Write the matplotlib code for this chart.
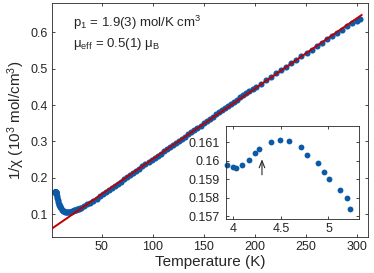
import numpy as np
import matplotlib
matplotlib.use('Agg')
from matplotlib import pyplot as plt

plt.rcParams['font.family'] = ['Liberation Sans', 'DejaVu Sans']
plt.rcParams['mathtext.fontset'] = 'custom'
plt.rcParams['mathtext.rm'] = 'Liberation Sans'
plt.rcParams['mathtext.it'] = 'Liberation Sans:italic'

# measured 1/chi (10^3 mol/cm^3) vs temperature (K)
temp = [3.93, 3.99, 4.03, 4.09, 4.16, 4.23, 4.27, 4.39, 4.49, 4.58, 4.71, 4.77,
        4.89, 4.95, 5.01, 5.12, 5.19, 5.23, 5.5, 6, 6.5, 7, 7.5, 8, 8.5, 9, 9.5,
        10, 11, 12, 13, 14, 15, 16, 17, 18, 19, 20, 21, 22, 23, 24, 25, 26, 27,
        28, 29, 30, 33, 36, 39, 42, 45, 48, 51, 54, 57, 60, 63, 66, 69, 72, 75,
        78, 81, 84, 87, 90, 93, 96, 99, 102, 105, 108, 111, 114, 117, 120, 123,
        126, 129, 132, 135, 138, 141, 144, 147, 150, 153, 156, 159, 162, 165,
        168, 171, 174, 177, 180, 183, 186, 189, 192, 195, 198, 201, 206, 211,
        216, 221, 226, 231, 236, 241, 246, 251, 256, 261, 266, 271, 276, 281,
        286, 291, 296, 300, 303]
inv_chi = [0.15978, 0.15964, 0.15960, 0.15977, 0.16002, 0.16040, 0.16064,
           0.16103, 0.16114, 0.16107, 0.16074, 0.16033, 0.15989, 0.15940,
           0.15901, 0.15841, 0.15797, 0.15737, 0.1550, 0.1500, 0.1440, 0.1380,
           0.1330, 0.1280, 0.1245, 0.1210, 0.1185, 0.1160, 0.1120, 0.1090,
           0.1070, 0.1057, 0.1050, 0.1048, 0.1050, 0.1055, 0.1061, 0.1068,
           0.1077, 0.1087, 0.1098, 0.1109, 0.1121, 0.1133, 0.1145, 0.1152,
           0.1160, 0.1168, 0.1220, 0.1272, 0.1316, 0.1370, 0.1427, 0.1485,
           0.1543, 0.1601, 0.1659, 0.1717, 0.1775, 0.1833, 0.1893, 0.1958,
           0.2016, 0.2075, 0.2133, 0.2191, 0.2250, 0.2309, 0.2367, 0.2425,
           0.2484, 0.2550, 0.2608, 0.2666, 0.2724, 0.2782, 0.2840, 0.2898,
           0.2956, 0.3014, 0.3072, 0.3132, 0.3192, 0.3252, 0.3314, 0.3375,
           0.3436, 0.3500, 0.3562, 0.3622, 0.3683, 0.3743, 0.3801, 0.3859,
           0.3917, 0.3975, 0.4033, 0.4092, 0.4152, 0.4212, 0.4272, 0.4330,
           0.4388, 0.4445, 0.4500, 0.4582, 0.4679, 0.4774, 0.4870, 0.4964,
           0.5058, 0.5153, 0.5248, 0.5344, 0.5433, 0.5528, 0.5622, 0.5715,
           0.5805, 0.5897, 0.5990, 0.6075, 0.6167, 0.6260, 0.6325, 0.6375]

# low temperature detail (inset)
inset_temp = [3.93, 3.99, 4.03, 4.09, 4.16, 4.23, 4.27, 4.39, 4.49, 4.58,
              4.71, 4.77, 4.89, 4.95, 5.01, 5.12, 5.19, 5.23]
inset_inv_chi = [0.15978, 0.15964, 0.15960, 0.15977, 0.16002, 0.16040,
                 0.16064, 0.16103, 0.16114, 0.16107, 0.16074, 0.16033,
                 0.15989, 0.15940, 0.15901, 0.15841, 0.15797, 0.15737]

# Curie-Weiss fit
fit_intercept = 0.0576
fit_slope = 0.001935
fit_range = [1.6, 305]

blue = '#0c5aa6'
red = '#c00000'
dark = '#262626'

fig = plt.figure(figsize=(3.74, 2.73), dpi=100)
ax = fig.add_axes([0.1398, 0.1308, 0.8434, 0.8571])

ax.plot(temp, inv_chi, 'o', color=blue, ms=4.4, mew=0, zorder=2, clip_on=False)
fit_t = np.array(fit_range)
ax.plot(fit_t, fit_intercept + fit_slope * fit_t, '-', color=red, lw=1.4, zorder=3)

ax.set_xlim(1.6, 311)
ax.set_ylim(0.036, 0.68)
ax.set_xticks([50, 100, 150, 200, 250, 300])
ax.set_yticks([0.1, 0.2, 0.3, 0.4, 0.5, 0.6])
ax.set_yticklabels(['0.1', '0.2', '0.3', '0.4', '0.5', '0.6'])
ax.tick_params(direction='in', length=2.5, width=0.6, top=True, right=True,
               labelsize=9, colors=dark, pad=3)
for s in ax.spines.values():
    s.set_linewidth(0.6)
    s.set_color(dark)
ax.set_xlabel('Temperature (K)', fontsize=11, color=dark, labelpad=1)
ax.set_ylabel('1/χ (10$^3$ mol/cm$^3$)', fontsize=11, color=dark, labelpad=3)

ax.text(0.065, 0.900, 'p$_1$ = 1.9(3) mol/K cm$^3$', transform=ax.transAxes,
        fontsize=9.5, color=dark, va='baseline', ha='left')
ax.text(0.065, 0.8145, 'μ$_{\\mathrm{eff}}$ = 0.5(1) μ$_\\mathrm{B}$', transform=ax.transAxes,
        fontsize=9.5, color=dark, va='baseline', ha='left')

# inset
axi = fig.add_axes([0.6034, 0.1978, 0.3572, 0.3407])
axi.plot(inset_temp, inset_inv_chi, 'o', color=blue, ms=4.2, mew=0, clip_on=False)
axi.set_xlim(3.918, 5.324)
axi.set_ylim(0.156837, 0.161891)
axi.set_xticks([4, 4.5, 5])
axi.set_xticklabels(['4', '4.5', '5'])
axi.set_yticks([0.157, 0.158, 0.159, 0.16, 0.161])
axi.set_yticklabels(['0.157', '0.158', '0.159', '0.16', '0.161'])
axi.tick_params(direction='in', length=2.5, width=0.6, top=True, right=True,
                labelsize=9, colors=dark, pad=3)
axi.tick_params(axis='y', pad=4.5)
for s in axi.spines.values():
    s.set_linewidth(0.6)
    s.set_color(dark)
axi.annotate('', xy=(4.30, 0.16008), xytext=(4.30, 0.15924),
             arrowprops=dict(arrowstyle='->,head_length=0.5,head_width=0.2',
                             color=dark, lw=0.8, shrinkA=0, shrinkB=0))

fig.savefig('out.png', dpi=100, facecolor='white')
